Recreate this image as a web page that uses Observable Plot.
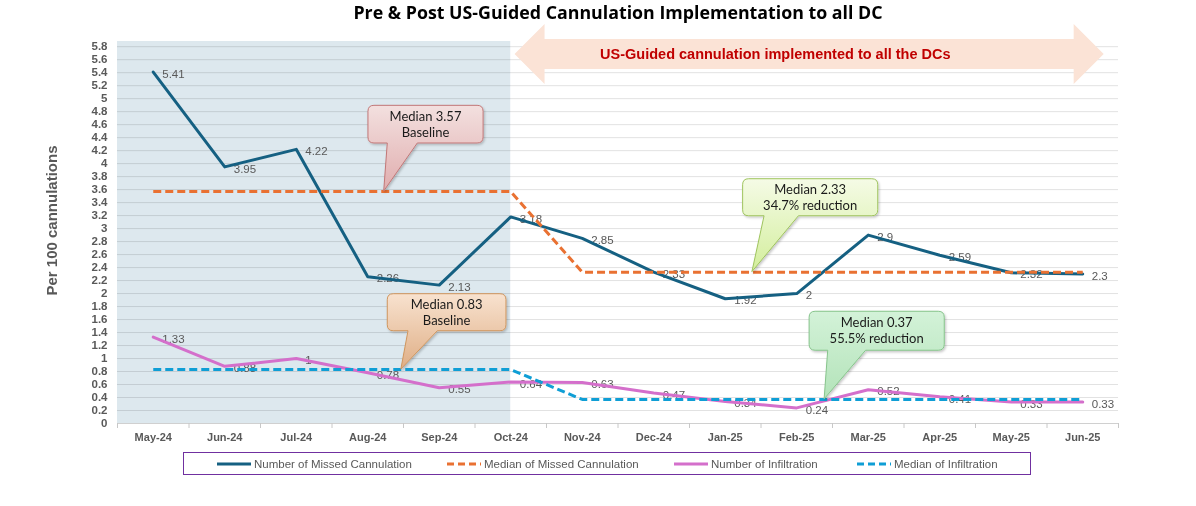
<!DOCTYPE html>
<html>
<head>
<meta charset="utf-8">
<script src="https://cdn.jsdelivr.net/npm/d3@7"></script>
<script src="https://cdn.jsdelivr.net/npm/@observablehq/plot@0.6"></script>
<style>
  body { margin: 0; background: #fff; }
  #chart { position: relative; width: 1196px; height: 506px; font-family: "Liberation Sans", Arial, sans-serif; }
  #chart svg { display: block; overflow: visible; }
  .legend { position: absolute; left: 183px; top: 452px; width: 846px; height: 21px; border: 1px solid #7030a0; box-sizing: content-box; }
  .legend .item { position: absolute; top: 0; height: 21px; display: flex; align-items: center; font-size: 11.5px; color: #595959; white-space: nowrap; }
  .legend .item svg { margin-right: 3px; }
</style>
</head>
<body>
<div id="chart"></div>
<script>
// Monthly rates per 100 cannulations
const months = ["May-24", "Jun-24", "Jul-24", "Aug-24", "Sep-24", "Oct-24", "Nov-24",
                "Dec-24", "Jan-25", "Feb-25", "Mar-25", "Apr-25", "May-25", "Jun-25"];
const missedCannulation = [5.41, 3.95, 4.22, 2.26, 2.13, 3.18, 2.85, 2.33, 1.92, 2, 2.9, 2.59, 2.32, 2.3];
const infiltration = [1.33, 0.88, 1, 0.78, 0.55, 0.64, 0.63, 0.47, 0.34, 0.24, 0.52, 0.41, 0.33, 0.33];
const missedMedian = [3.57, 3.57, 3.57, 3.57, 3.57, 3.57, 2.33, 2.33, 2.33, 2.33, 2.33, 2.33, 2.33, 2.33];
const infiltrationMedian = [0.83, 0.83, 0.83, 0.83, 0.83, 0.83, 0.37, 0.37, 0.37, 0.37, 0.37, 0.37, 0.37, 0.37];
const yTicks = [0, 0.2, 0.4, 0.6, 0.8, 1, 1.2, 1.4, 1.6, 1.8, 2, 2.2, 2.4, 2.6, 2.8,
                3, 3.2, 3.4, 3.6, 3.8, 4, 4.2, 4.4, 4.6, 4.8, 5, 5.2, 5.4, 5.6, 5.8];
const yMax = 5.88;
const rolloutIndex = 5; // Oct-24: last month of the baseline period

const titleText = "Pre & Post US-Guided Cannulation Implementation to all DC";
const yLabel = "Per 100 cannulations";
const rolloutText = "US-Guided cannulation implemented to all the DCs";

const series = [
  {name: "Number of Missed Cannulation", values: missedCannulation, color: "#156082", dash: null, labelled: true},
  {name: "Median of Missed Cannulation", values: missedMedian, color: "#E97132", dash: "8,4", labelled: false},
  {name: "Number of Infiltration", values: infiltration, color: "#D46FCB", dash: null, labelled: true},
  {name: "Median of Infiltration", values: infiltrationMedian, color: "#0F9ED5", dash: "8,4", labelled: false}
];

// Callouts: box and pointer in data units, tip anchored on the median value
const callouts = [
  {lines: [`Median ${missedMedian[0]}`, "Baseline"], tip: [3.23, missedMedian[0]],
   box: [3.01, 4.62, 4.31, 4.89], base: [3.28, 3.70], fill: ["#f3e0df", "#e0adae"], stroke: "#c27777"},
  {lines: [`Median ${infiltrationMedian[0]}`, "Baseline"], tip: [3.47, infiltrationMedian[0]],
   box: [3.28, 4.94, 1.42, 1.99], base: [3.57, 3.98], fill: ["#f8e2cf", "#dfae85"], stroke: "#d0965e"},
  {lines: [`Median ${missedMedian[13]}`, "34.7% reduction"], tip: [8.38, missedMedian[13]],
   box: [8.25, 10.14, 3.19, 3.76], base: [8.55, 9.03], fill: ["#f5fbe6", "#d3ee9c"], stroke: "#9fc45e"},
  {lines: [`Median ${infiltrationMedian[13]}`, "55.5% reduction"], tip: [9.39, infiltrationMedian[13]],
   box: [9.18, 11.07, 1.12, 1.72], base: [9.44, 9.97], fill: ["#d3f2d8", "#b3e3b9"], stroke: "#86c48b"}
];

// Double-headed block arrow spanning the post-rollout months (data units)
const rolloutArrow = {x: [5.06, 5.48, 12.88, 13.30], yMid: 5.68, shaft: [5.45, 5.91], head: [5.22, 6.14]};

const rows = (values) => months.map((month, i) => ({i, month, value: values[i]}));
const boundaries = d3.range(-0.5, months.length, 1);

function arrowMark(a, fill) {
  return (index, {x, y}) => {
    const [xl, xlb, xrb, xr] = a.x.map(x);
    const ym = y(a.yMid), s1 = y(a.shaft[1]), s2 = y(a.shaft[0]), h1 = y(a.head[1]), h2 = y(a.head[0]);
    const d = `M${xl},${ym}L${xlb},${h1}V${s1}H${xrb}V${h1}L${xr},${ym}L${xrb},${h2}V${s2}H${xlb}V${h2}Z`;
    const g = d3.create("svg:g");
    g.append("path").attr("d", d).attr("fill", fill);
    return g.node();
  };
}

function calloutMark(items) {
  return (index, {x, y}) => {
    const g = d3.create("svg:g");
    const defs = g.append("defs");
    defs.append("filter").attr("id", "callout-shadow")
      .attr("x", "-10%").attr("y", "-10%").attr("width", "130%").attr("height", "130%")
      .append("feDropShadow").attr("dx", 1.2).attr("dy", 1.5).attr("stdDeviation", 1.2)
      .attr("flood-color", "#000").attr("flood-opacity", 0.22);
    items.forEach((c, k) => {
      const x1 = x(c.box[0]), x2 = x(c.box[1]), top = y(c.box[3]), bottom = y(c.box[2]);
      const tx = x(c.tip[0]), ty = y(c.tip[1]);
      const b1 = x(c.base[0]), b2 = x(c.base[1]);
      const r = 6;
      const grad = defs.append("linearGradient").attr("id", `callout-fill-${k}`)
        .attr("gradientUnits", "userSpaceOnUse")
        .attr("x1", 0).attr("x2", 0).attr("y1", top).attr("y2", ty);
      grad.append("stop").attr("offset", 0).attr("stop-color", c.fill[0]);
      grad.append("stop").attr("offset", 1).attr("stop-color", c.fill[1]);
      const d = `M${x1 + r},${top}H${x2 - r}Q${x2},${top} ${x2},${top + r}V${bottom - r}` +
                `Q${x2},${bottom} ${x2 - r},${bottom}H${b2}L${tx},${ty}L${b1},${bottom}H${x1 + r}` +
                `Q${x1},${bottom} ${x1},${bottom - r}V${top + r}Q${x1},${top} ${x1 + r},${top}Z`;
      g.append("path").attr("d", d).attr("fill", `url(#callout-fill-${k})`)
        .attr("stroke", c.stroke).attr("stroke-width", 1).attr("filter", "url(#callout-shadow)");
      const cx = (x1 + x2) / 2, cy = (top + bottom) / 2;
      c.lines.forEach((line, j) => {
        g.append("text")
          .attr("x", cx).attr("y", cy + (j - (c.lines.length - 1) / 2) * 16).attr("dy", "0.35em")
          .attr("text-anchor", "middle").attr("font-family", "Lato, sans-serif")
          .attr("font-size", 13).attr("font-weight", "normal").attr("fill", "#1a1a1a")
          .text(line);
      });
    });
    return g.node();
  };
}

const seriesMarks = series.map((s) =>
  Plot.line(rows(s.values), {
    x: "i", y: "value", stroke: s.color, strokeWidth: 3,
    strokeDasharray: s.dash ?? undefined, strokeLinejoin: "round", strokeLinecap: s.dash ? "butt" : "round"
  })
);

const labelMarks = series.filter((s) => s.labelled).map((s) =>
  Plot.text(rows(s.values), {
    x: "i", y: "value", text: (d) => String(d.value), dx: 9, dy: 2, textAnchor: "start",
    fill: "#595959", fontSize: 11.5, fontWeight: "normal"
  })
);

const chart = Plot.plot({
  width: 1196,
  height: 446,
  marginTop: 41,
  marginBottom: 23,
  marginLeft: 117,
  marginRight: 78,
  style: {fontFamily: "'Liberation Sans', Arial, sans-serif", fontSize: "11.5px", fontWeight: "bold", color: "#595959", overflow: "visible"},
  x: {domain: [-0.5, months.length - 0.5], axis: null},
  y: {domain: [0, yMax], ticks: yTicks, tickSize: 0, tickPadding: 10, tickFormat: (d) => String(d), label: null},
  marks: [
    // baseline period shading
    Plot.rect([{}], {x1: -0.5, x2: rolloutIndex, y1: 0, y2: yMax, fill: "#dde8ee"}),
    // horizontal gridlines
    Plot.ruleY(yTicks.slice(1), {stroke: "#e2e2e2", strokeWidth: 1, mixBlendMode: "multiply"}),
    Plot.ruleY([0], {stroke: "#d0d0d0"}),
    Plot.ruleX(boundaries, {y1: 0, y2: 0, insetBottom: -5, stroke: "#c8c8c8"}),
    // rollout arrow
    arrowMark(rolloutArrow, "#fbe3d6"),
    Plot.text([rolloutText], {x: 8.70, y: rolloutArrow.yMid, text: (d) => d, fill: "#c00000", fontSize: 14.5, fontWeight: "bold"}),
    // month labels
    Plot.text(months, {x: (d, i) => i, y: 0, text: (d) => d, dy: 14, fill: "#595959", fontSize: 11, fontWeight: "bold"}),
    ...labelMarks,
    ...seriesMarks,
    calloutMark(callouts),
    // title and y label
    Plot.text([titleText], {frameAnchor: "top", lineAnchor: "middle", dy: -28, text: (d) => d, fill: "#000", fontSize: 17.8, fontWeight: "bold", fontFamily: "'Open Sans', sans-serif"}),
    Plot.text([yLabel], {frameAnchor: "left", textAnchor: "middle", dx: -65, dy: -12, rotate: -90, text: (d) => d, fill: "#595959", fontSize: 15, fontWeight: "bold"})
  ]
});

const root = document.getElementById("chart");
root.appendChild(chart);

// Legend below the plot
const legend = d3.select(root).append("div").attr("class", "legend");
const legendOffsets = [33, 263, 490, 673];
series.forEach((s, k) => {
  const item = legend.append("div").attr("class", "item").style("left", `${legendOffsets[k]}px`);
  const sw = item.append("svg").attr("width", 34).attr("height", 6);
  sw.append("line").attr("x1", 0).attr("x2", 34).attr("y1", 3).attr("y2", 3)
    .attr("stroke", s.color).attr("stroke-width", 3).attr("stroke-dasharray", s.dash ? "7,4" : null);
  item.append("span").text(s.name);
});
</script>
</body>
</html>
